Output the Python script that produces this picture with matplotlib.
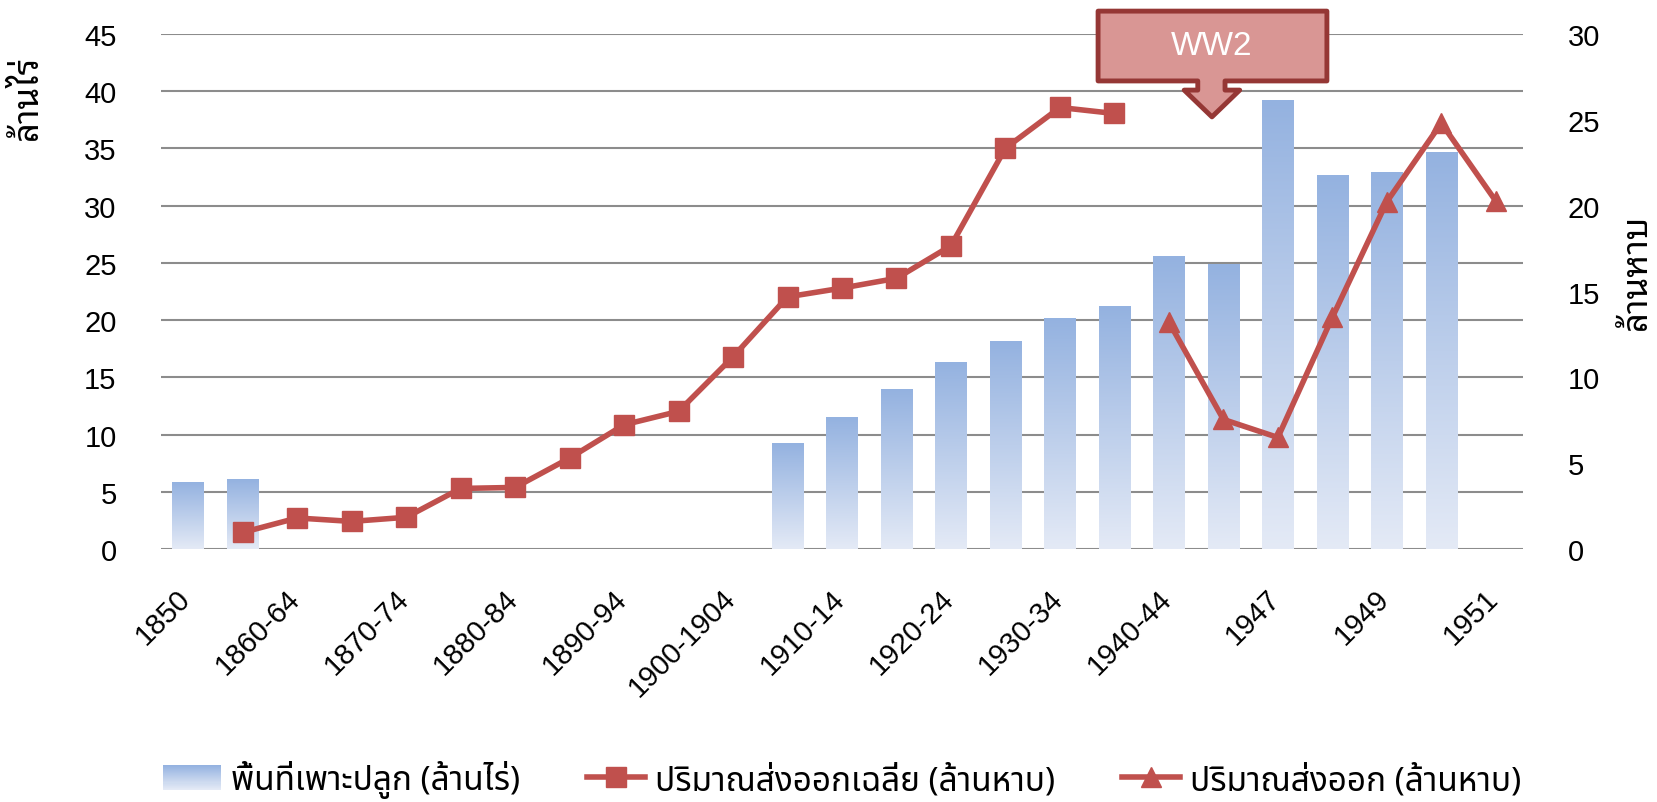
import numpy as np
import matplotlib
matplotlib.use('Agg')
import matplotlib.pyplot as plt
from matplotlib import font_manager, ft2font
from matplotlib.colors import LinearSegmentedColormap
from matplotlib.patches import Polygon, Rectangle
from matplotlib.lines import Line2D
from matplotlib.legend_handler import HandlerBase
from matplotlib.transforms import ScaledTranslation

# data
categories = ['1850', '1855-59', '1860-64', '1865-69', '1870-74', '1875-79',
              '1880-84', '1885-89', '1890-94', '1895-99', '1900-1904', '1905-09',
              '1910-14', '1915-19', '1920-24', '1925-29', '1930-34', '1935-39',
              '1940-44', '1945-46', '1947', '1948', '1949', '1950', '1951']
area = [5.77, 6.03] + [None] * 9 + [9.2, 11.45, 13.9, 16.26, 18.09, 20.1, 21.15,
                                    25.52, 24.9, 39.16, 32.6, 32.87, 34.6] + [None]
avg_export = [None, 0.97, 1.81, 1.61, 1.85, 3.53, 3.59, 5.30, 7.24, 8.02, 11.2,
              14.69, 15.2, 15.77, 17.67, 23.35, 25.72, 25.37] + [None] * 7
export = [None] * 18 + [13.22, 7.55, 6.5, 13.5, 20.23, 24.81, 20.27]

lbl_area = 'พื้นที่เพาะปลูก (ล้านไร่)'
lbl_avg = 'ปริมาณส่งออกเฉลี่ย (ล้านหาบ)'
lbl_exp = 'ปริมาณส่งออก (ล้านหาบ)'


# find fonts that have Thai glyphs
def thai_fonts():
    names = []
    for f in font_manager.fontManager.ttflist:
        try:
            if ft2font.FT2Font(f.fname).get_char_index(ord('ก')):
                names.append(f.name)
        except Exception:
            pass
    return sorted(set(names))


def pick(prefs, found):
    for p in prefs:
        if p in found:
            return p
    return found[0] if found else None


found = thai_fonts()
thai = pick(['Noto Sans Thai', 'Noto Sans Thai UI', 'Loma', 'Sarabun'], found)
thai_bold = pick(['Noto Sans Thai Looped', 'Noto Sans Thai', 'Sarabun'], found)
fams = ['Liberation Sans'] + ([thai] if thai else []) + ['DejaVu Sans']
thai_fams = ([thai] if thai else []) + ['Liberation Sans', 'DejaVu Sans']
bold_fams = ([thai_bold] if thai_bold else []) + ['Liberation Sans', 'DejaVu Sans']
plt.rcParams['font.family'] = fams

x = np.arange(len(categories))
area_v = np.array([np.nan if v is None else v for v in area])
avg_v = np.array([np.nan if v is None else v for v in avg_export])
exp_v = np.array([np.nan if v is None else v for v in export])

red = '#C0504D'
bar_cmap = LinearSegmentedColormap.from_list('bar', ['#E4EAF6', '#94B2E0'])
grad = np.linspace(0, 1, 256).reshape(-1, 1)

fig = plt.figure(figsize=(16.58, 8.03), dpi=100)
ax = fig.add_axes([0.0971, 0.315, 0.8215, 0.6414])
ax2 = ax.twinx()

w = 0.58
for xi, h in zip(x, area_v):
    if np.isnan(h):
        continue
    ax.imshow(grad, cmap=bar_cmap, origin='lower', aspect='auto',
              extent=[xi - w / 2, xi + w / 2, 0, h], zorder=2, interpolation='bilinear')

ax.set_xlim(-0.5, len(categories) - 0.5)
ax.set_ylim(0, 45)
ax.set_yticks(np.arange(0, 46, 5))
ax.grid(axis='y', color='#8C8C8C', lw=1.5, zorder=1)
ax.set_axisbelow(True)
for s in ax.spines.values():
    s.set_visible(False)
for s in ax2.spines.values():
    s.set_visible(False)

ax2.plot(x, avg_v, color=red, lw=4, marker='s', ms=14, zorder=3)
ax2.plot(x, exp_v, color=red, lw=4, marker='^', ms=15, zorder=3)
ax2.set_ylim(0, 30)
ax2.set_yticks(np.arange(0, 31, 5))

ax.tick_params(axis='y', length=0, pad=32, labelsize=21)
ax2.tick_params(axis='y', length=0, pad=32, labelsize=21)
ax.set_xticks(x[::2])
ax.set_xticklabels(categories[::2], rotation=45, ha='right', fontsize=21)
ax.tick_params(axis='x', length=0, pad=25)
for t in ax.get_xticklabels():
    t.set_transform(t.get_transform() + ScaledTranslation(8 / 100, 0, fig.dpi_scale_trans))

fig.text(0.0169, 0.879, 'ล้านไร่', rotation=90, ha='center', va='center',
         fontsize=25, fontweight='bold', family=bold_fams)
fig.text(0.9873, 0.662, 'ล้านหาบ', rotation=90, ha='center', va='center',
         fontsize=25, fontweight='bold', family=bold_fams)

# WW2 callout
bx0, bx1, by0, by1 = 16.7, 20.9, 40.9, 47.0
sx0, sx1, hx0, hx1, hy = 18.53, 19.03, 18.28, 19.3, 40.1
tip = (18.79, 37.76)
verts = [(bx0, by1), (bx1, by1), (bx1, by0), (sx1, by0), (sx1, hy), (hx1, hy), tip,
         (hx0, hy), (sx0, hy), (sx0, by0), (bx0, by0)]
callout = Polygon(verts, closed=True, facecolor='#D99694', edgecolor='#953735', lw=3.5,
                  joinstyle='round', transform=ax.transData, clip_on=False, zorder=5)
ax2.add_patch(callout)
ax2.text(18.79, 44.0, 'WW2', transform=ax.transData, color='white', fontsize=24,
         ha='center', va='center', zorder=6)


class GradientHandler(HandlerBase):
    def create_artists(self, legend, orig_handle, xdescent, ydescent, width, height, fontsize, trans):
        n = 24
        arts = []
        for i in range(n):
            r = Rectangle((-xdescent, -ydescent + height * i / n), width, height / n + 0.3,
                          facecolor=bar_cmap(i / (n - 1)), edgecolor='none', transform=trans)
            arts.append(r)
        return arts


bar_handle = Rectangle((0, 0), 1, 1)
h_avg = Line2D([], [], color=red, lw=4, marker='s', ms=14)
h_exp = Line2D([], [], color=red, lw=4, marker='^', ms=15)
fig.legend([bar_handle, h_avg, h_exp], [lbl_area, lbl_avg, lbl_exp],
           handler_map={Rectangle: GradientHandler()}, loc='center',
           bbox_to_anchor=(0.508, 0.0286), ncol=3, frameon=False,
           prop={'family': thai_fams, 'size': 24},
           handlelength=1.75, handleheight=0.75, handletextpad=0.3, columnspacing=2.0)

fig.savefig('out.png', dpi=100)
